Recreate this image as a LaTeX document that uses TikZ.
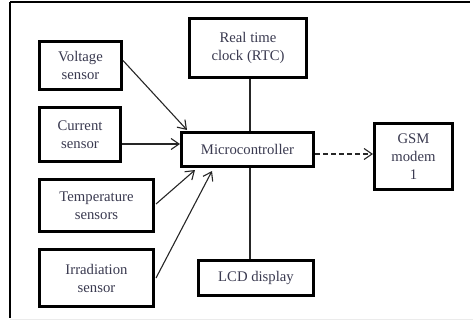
\documentclass[tikz,border=0pt]{standalone}
\usepackage{fontspec}
\setmainfont{Liberation Serif}
\usetikzlibrary{arrows.meta,calc}
\definecolor{txt}{HTML}{3A3A50}
\tikzset{
  blk/.style={draw=black, line width=3.4pt, fill=white, align=center,
    inner sep=0pt, text=txt, font=\fontsize{14.7}{18}\selectfont},
  link/.style={line width=1.1pt, black!85},
  feed/.style={link, -{Straight Barb[length=8pt,width=11pt,line width=1.1pt]}},
}
\begin{document}
\begin{tikzpicture}[x=1pt,y=-1pt]
  \useasboundingbox (0,0) rectangle (473,321);
  % page frame
  \draw[line width=2pt] (10,2) -- (470,2);
  \draw[line width=2pt] (10,2) -- (10,318);
  \draw[black!8, line width=0.8pt] (10,319.5) -- (473,319.5);

  % blocks
  \node[blk, minimum width=81.6pt, minimum height=47.6pt] (v) at (80.5,65.5) {Voltage\\sensor};
  \node[blk, minimum width=80.6pt, minimum height=53.6pt] (c) at (80,134.5) {Current\\sensor};
  \node[blk, minimum width=113.6pt, minimum height=51.6pt] (t) at (96.5,205.5) {Temperature\\sensors};
  \node[blk, minimum width=113.6pt, minimum height=56.6pt] (ir) at (96.5,278) {Irradiation\\sensor};
  \node[blk, minimum width=116.6pt, minimum height=58.6pt] (rtc) at (248,48) {Real time\\clock (RTC)};
  \node[blk, minimum width=131.6pt, minimum height=33.6pt] (m) at (247.5,149.5) {Microcontroller};
  \node[blk, minimum width=77.6pt, minimum height=65.6pt] (g) at (413.5,156.5) {GSM\\modem\\1};
  \node[blk, minimum width=114.6pt, minimum height=34.6pt] (lcd) at (256,278) {LCD display};

  % anchor points on the microcontroller
  \coordinate (vin) at ([xshift=7pt,yshift=1pt]m.north west);
  \coordinate (tin) at ([xshift=15pt,yshift=-2pt]m.south west);
  \coordinate (iin) at ([xshift=32pt,yshift=-3pt]m.south west);
  \coordinate (cout) at ([yshift=-9.5pt]c.east);
  \coordinate (mout) at ([yshift=-4.5pt]m.east);
  \coordinate (rtcb) at ([xshift=2pt]rtc.south);

  % connectors
  \draw[feed] ([yshift=5pt]v.east) -- (vin);
  \draw[feed] (cout) -- (m.west |- cout);
  \draw[feed] ([xshift=1pt,yshift=1.5pt]t.east) -- (tin);
  \draw[feed] ([xshift=1pt]ir.east) -- (iin);
  \draw[link] (rtcb) -- (rtcb |- m.north);
  \draw[link] (rtcb |- m.south) -- (rtcb |- lcd.north);
  \draw[feed, dash pattern=on 5pt off 3pt] (mout) -- (g.west |- mout);
\end{tikzpicture}
\end{document}
